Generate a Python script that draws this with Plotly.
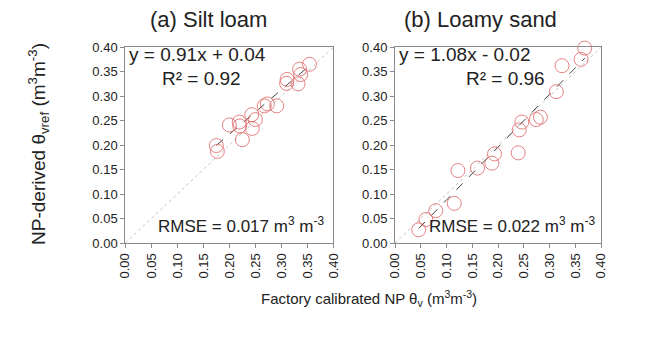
import plotly.graph_objects as go

# ---------------- data ----------------
silt_x = [0.175, 0.177, 0.200, 0.219, 0.220, 0.225, 0.244, 0.243, 0.250, 0.267,
          0.273, 0.291, 0.311, 0.310, 0.332, 0.335, 0.337, 0.354]
silt_y = [0.199, 0.187, 0.241, 0.247, 0.239, 0.211, 0.234, 0.262, 0.252, 0.280,
          0.284, 0.280, 0.334, 0.326, 0.325, 0.355, 0.344, 0.365]
sand_x = [0.046, 0.060, 0.079, 0.115, 0.122, 0.160, 0.188, 0.193, 0.239, 0.241,
          0.246, 0.274, 0.282, 0.313, 0.324, 0.361, 0.368]
sand_y = [0.027, 0.048, 0.066, 0.081, 0.148, 0.153, 0.163, 0.182, 0.184, 0.231,
          0.247, 0.252, 0.257, 0.309, 0.362, 0.375, 0.398]
silt_fit = (0.91, 0.04)
sand_fit = (1.08, -0.02)
tick_vals = [0.00, 0.05, 0.10, 0.15, 0.20, 0.25, 0.30, 0.35, 0.40]
tick_text = ["0.00", "0.05", "0.10", "0.15", "0.20", "0.25", "0.30", "0.35", "0.40"]
panel_titles = ["(a) Silt loam", "(b) Loamy sand"]
eq_texts = ["y = 0.91x + 0.04", "y = 1.08x - 0.02"]
r2_texts = ["R² = 0.92", "R² = 0.96"]
rmse_texts = ["RMSE = 0.017 m<sup>3</sup> m<sup>-3</sup>", "RMSE = 0.022 m<sup>3</sup> m<sup>-3</sup>"]

W, H = 660, 337
FONT = "Liberation Sans, Arial, sans-serif"
px = lambda v: v / W
py = lambda v: 1 - v / H

fig = go.Figure()

panels = [(silt_x, silt_y, silt_fit, "x", "y"), (sand_x, sand_y, sand_fit, "x2", "y2")]
for xs, ys, (m, b), xa, ya in panels:
    fig.add_trace(go.Scatter(x=[tick_vals[0], tick_vals[-1]], y=[tick_vals[0], tick_vals[-1]],
                             mode="lines", line=dict(color="#c4c4c4", width=1, dash="dot"),
                             xaxis=xa, yaxis=ya, showlegend=False, hoverinfo="skip"))
    x0, x1 = min(xs), max(xs)
    fig.add_trace(go.Scatter(x=[x0, x1], y=[m * x0 + b, m * x1 + b],
                             mode="lines", line=dict(color="#444444", width=1, dash="dash"),
                             xaxis=xa, yaxis=ya, showlegend=False, hoverinfo="skip"))
    fig.add_trace(go.Scatter(x=xs, y=ys, mode="markers",
                             marker=dict(symbol="circle-open", size=14, color="rgba(224,100,100,0.8)",
                                         line=dict(width=1)),
                             xaxis=xa, yaxis=ya, showlegend=False, cliponaxis=False))

axis_common = dict(range=[0, 0.4], tickvals=tick_vals, ticktext=tick_text,
                   showline=True, linecolor="#8a8a8a", linewidth=1, mirror=True,
                   ticks="outside", ticklen=4, tickcolor="#8a8a8a", showgrid=False,
                   zeroline=False, tickfont=dict(family=FONT, size=13, color="#222222"))

ydom = [py(247), py(42)]
fig.update_layout(
    width=W, height=H, margin=dict(l=0, r=0, t=0, b=0),
    paper_bgcolor="white", plot_bgcolor="white",
    xaxis=dict(domain=[px(120), px(333)], anchor="y", tickangle=-90, **axis_common),
    yaxis=dict(domain=ydom, anchor="x", **axis_common),
    xaxis2=dict(domain=[px(396), px(607)], anchor="y2", tickangle=-90, **axis_common),
    yaxis2=dict(domain=ydom, anchor="x2", **axis_common),
)

ann = []
def add(text, x, y, size, xanchor="center"):
    ann.append(dict(text=text, x=px(x), y=py(y), xref="paper", yref="paper",
                    showarrow=False, xanchor=xanchor, yanchor="middle",
                    font=dict(family=FONT, size=size, color="#222222")))

def add_data(text, xa, ya, x, y, size, xanchor):
    ann.append(dict(text=text, x=x, y=y, xref=xa, yref=ya,
                    showarrow=False, xanchor=xanchor, yanchor="middle",
                    font=dict(family=FONT, size=size, color="#222222")))

add(panel_titles[0], 205, 13, 22)
add(panel_titles[1], 484, 13, 22)
add_data(eq_texts[0], "x", "y", 0.004, 0.385, 19, "left")
add_data(r2_texts[0], "x", "y", 0.147, 0.335, 19, "center")
add_data(rmse_texts[0], "x", "y", 0.385, 0.036, 17, "right")
add_data(eq_texts[1], "x2", "y2", 0.004, 0.385, 19, "left")
add_data(r2_texts[1], "x2", "y2", 0.215, 0.335, 19, "center")
add_data(rmse_texts[1], "x2", "y2", 0.392, 0.036, 17, "right")
add("Factory calibrated NP θ<sub>v</sub> (m<sup>3</sup>m<sup>-3</sup>)", 369, 305, 15)
ann.append(dict(text="NP-derived θ<sub>vref</sub> (m<sup>3</sup>m<sup>-3</sup>)", x=px(31), y=py(143),
                xref="paper", yref="paper", showarrow=False, textangle=-90,
                xanchor="center", yanchor="middle",
                font=dict(family=FONT, size=19, color="#222222")))
fig.update_layout(annotations=ann)

fig.write_html("out.html")
